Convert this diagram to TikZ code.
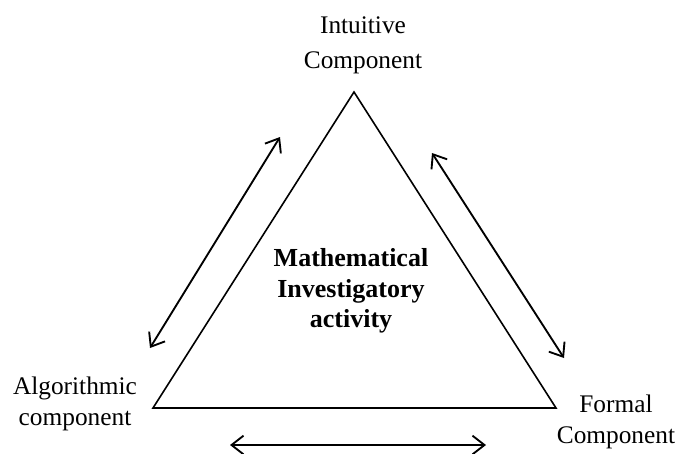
\documentclass[tikz,border=0pt]{standalone}
\usepackage{fontspec}
\setmainfont{Liberation Serif}
\usetikzlibrary{arrows.meta,positioning}

\begin{document}
\begin{tikzpicture}[x=0.75pt,y=-0.75pt,>={Straight Barb[length=9pt,width=14pt]},
	label/.style={align=center,font=\fontsize{19}{23.5}\selectfont,inner sep=0pt},
	twoway/.style={<->,line width=1.4pt}]
	\useasboundingbox (0,0) rectangle (676,454);
	% corners of the triangle
	\coordinate (top) at (354,92);
	\coordinate (left) at (153,408);
	\coordinate (right) at (556,408);
	\draw[line width=1.2pt,line join=miter] (top) -- (left) -- (right) -- cycle;
	% labels
	\node[label,font=\fontsize{19}{26}\selectfont] (intuitive) at (363,45) {Intuitive\\Component};
	\node[label] (algorithmic) at (75,404) {Algorithmic\\component};
	\node[label] (formal) at (616,422) {Formal\\Component};
	\node[label,font=\fontsize{19.5}{23}\selectfont\bfseries] (activity) at (351,291) {Mathematical\\Investigatory\\activity};
	% arrows between the components
	\coordinate (a1) at (280,137);
	\coordinate (a2) at (150,348);
	\coordinate (b1) at (432,153);
	\coordinate (b2) at (564,358);
	\coordinate (c1) at (230,445);
	\coordinate (c2) at (486,445);
	\draw[twoway] (a1) -- (a2);
	\draw[twoway] (b1) -- (b2);
	\draw[twoway] (c1) -- (c2);
\end{tikzpicture}
\end{document}
